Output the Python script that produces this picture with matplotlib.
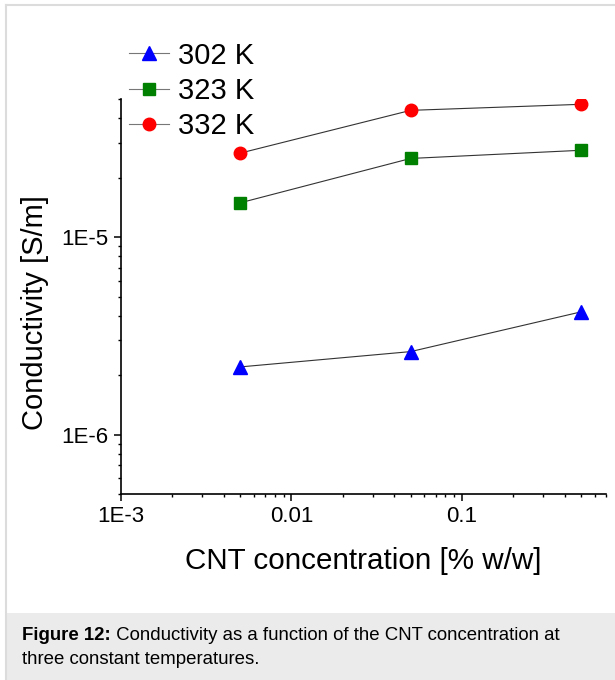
import matplotlib
matplotlib.use("Agg")
import matplotlib.pyplot as plt
from matplotlib.patches import Rectangle
from matplotlib.lines import Line2D

plt.rcParams['font.family'] = ['Liberation Sans', 'DejaVu Sans']

# CNT concentration [% w/w]
conc = [0.005, 0.05, 0.5]
# conductivity [S/m] at each temperature
sigma_302 = [2.2e-6, 2.63e-6, 4.18e-6]
sigma_323 = [1.49e-5, 2.5e-5, 2.75e-5]
sigma_332 = [2.66e-5, 4.38e-5, 4.7e-5]

labels = ['302 K', '323 K', '332 K']
caption_bold = 'Figure 12:'
caption_rest = ' Conductivity as a function of the CNT concentration at'
caption_line2 = 'three constant temperatures.'

W, H = 615, 680
fig = plt.figure(figsize=(W / 100, H / 100), dpi=100)

# page frame and caption box
fig.add_artist(Rectangle((6 / W, 0), 1 - 6 / W, (H - 613) / H, transform=fig.transFigure,
                         facecolor='#ebebeb', edgecolor='none', zorder=0))
fig.add_artist(Line2D([6 / W, 6 / W], [0, (H - 5) / H], transform=fig.transFigure,
                      color='#dcdcdc', lw=1.5))
fig.add_artist(Line2D([6 / W, 1], [(H - 5) / H, (H - 5) / H], transform=fig.transFigure,
                      color='#dcdcdc', lw=1.5))

ax = fig.add_axes([121 / W, (H - 494) / H, (606 - 121) / W, (494 - 99) / H])

ax.plot(conc, sigma_302, color='#333333', lw=0.8, marker='^', ms=10,
        mfc='#0000ff', mec='#0000ff', label=labels[0])
ax.plot(conc, sigma_323, color='#333333', lw=0.8, marker='s', ms=8.5,
        mfc='#008000', mec='#008000', label=labels[1])
ax.plot(conc, sigma_332, color='#333333', lw=0.8, marker='o', ms=9,
        mfc='#ff0000', mec='#ff0000', label=labels[2])

ax.set_xscale('log')
ax.set_yscale('log')
ax.set_xlim(1e-3, 0.7)
ax.set_ylim(5e-7, 5e-5)

ax.spines['top'].set_visible(False)
ax.spines['right'].set_visible(False)
ax.spines['left'].set_linewidth(1.2)
ax.spines['bottom'].set_linewidth(1.2)

ax.set_xticks([1e-3, 1e-2, 1e-1])
ax.set_xticklabels(['1E-3', '0.01', '0.1'])
ax.set_yticks([1e-6, 1e-5])
ax.set_yticklabels(['1E-6', '1E-5'])
ax.tick_params(which='major', direction='out', length=5, width=1.1, labelsize=16, pad=4)
ax.tick_params(which='minor', direction='out', length=2.5, width=1.0)

ax.set_xlabel('CNT concentration [% w/w]', fontsize=21.3, labelpad=14)
ax.set_ylabel('Conductivity [S/m]', fontsize=21)
ax.yaxis.set_label_coords(-0.148, 0.46)

leg = ax.legend(loc='center left', bbox_to_anchor=(129 / W, (H - 91) / H),
                bbox_transform=fig.transFigure, frameon=False, fontsize=21,
                handlelength=1.38, handletextpad=0.3, labelspacing=0.25,
                borderpad=0, borderaxespad=0)
for h in leg.legend_handles:
    h.set_color('#777777')

t = fig.text(22 / W, (H - 636) / H, caption_bold, fontsize=13.4, fontweight='bold',
             va='center')
fig.canvas.draw()
bb = t.get_window_extent()
fig.text(bb.x1 / W, (H - 636) / H, caption_rest, fontsize=13.4, va='center')
fig.text(22 / W, (H - 660) / H, caption_line2, fontsize=13.4, va='center')

fig.savefig('out.png', dpi=100)
